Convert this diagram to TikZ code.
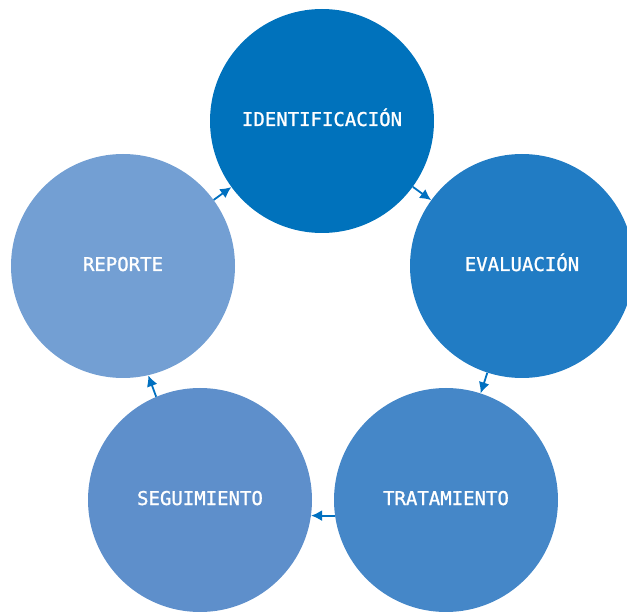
\documentclass[tikz,border=0pt]{standalone}
\usepackage{fontspec}
\setmonofont[FakeBold=1.2]{DejaVu Sans Mono}
\usetikzlibrary{arrows.meta}
\definecolor{cA}{RGB}{0,114,188}
\definecolor{cB}{RGB}{33,124,196}
\definecolor{cC}{RGB}{69,135,200}
\definecolor{cD}{RGB}{94,143,203}
\definecolor{cE}{RGB}{115,159,211}
\definecolor{arr}{RGB}{0,112,192}
\begin{document}
\begin{tikzpicture}[x=1pt,y=-1pt,
  stage/.style={circle,minimum size=224pt,inner sep=0pt,text=white,
    text height=10pt,text depth=0pt,
    font=\ttfamily\fontsize{19}{22}\selectfont},
  conn/.style={draw=arr,line width=1.8pt,-{Latex[length=11pt,width=11pt]}}]
\useasboundingbox (0,0) rectangle (627,612);
\begin{scope}
\clip (0,0) rectangle (627,612);
\node[stage,fill=cA] (ide) at (322,121) {IDENTIFICACIÓN};
\node[stage,fill=cB] (eva) at (522,266) {EVALUACIÓN};
\node[stage,fill=cC] (tra) at (446,500) {TRATAMIENTO};
\node[stage,fill=cD] (seg) at (200,500) {SEGUIMIENTO};
\node[stage,fill=cE] (rep) at (123,266) {REPORTE};
\end{scope}
\draw[conn] (rep) -- (ide);
\draw[conn] (ide) -- (eva);
\draw[conn] (eva) -- (tra);
\draw[conn] (tra.188) -- (seg.352);
\draw[conn] (seg.113) -- (rep.283);
\end{tikzpicture}
\end{document}
